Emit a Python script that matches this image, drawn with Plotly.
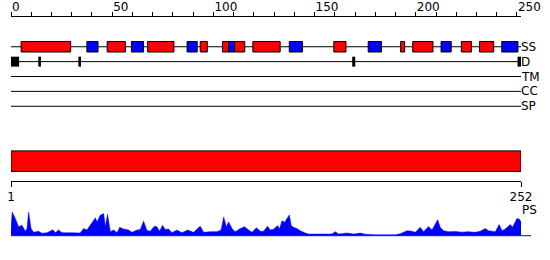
import plotly.graph_objects as go

# ---------------- data ----------------
ss_start = [5, 37.5, 47.5, 59.5, 67.5, 87, 93.5, 104.5, 107.5, 110.5, 119.5, 137.5,
            159.5, 176.5, 192.5, 198.5, 212.5, 222.5, 231.5, 242.5]
ss_end = [29.5, 43, 56.5, 65.5, 80.5, 92, 97, 107.5, 110.5, 115.5, 133, 144,
          165.5, 183, 194.5, 208.5, 217.5, 227.5, 238.5, 250.5]
ss_type = ["H", "E", "H", "E", "H", "E", "H", "H", "E", "H", "H", "E",
           "H", "E", "H", "H", "E", "H", "H", "E"]

d_start = [0, 13.5, 33.3, 168.6, 250.3]
d_end = [4, 14.8, 34.6, 170.1, 252]

domain_start = [0]
domain_end = [252]

seq_len = 252
track_names = ["SS", "D", "TM", "CC", "SP"]

ps_pos = [0, 0.6, 2.1, 3.8, 5.4, 6.2, 7.1, 7.9, 8.7, 9.9, 11.2, 13.6, 15.3, 17.8, 20.7,
          21.9, 23.5, 25.2, 27.7, 30.9, 34.2, 35.9, 37.5, 39.2, 41.7, 42.5, 44.1, 45.8,
          46.6, 47.7, 49.1, 50.7, 52.4, 53.7, 55.6, 58.1, 59.8, 62.3, 63.9, 65.5, 67.2,
          68.8, 70.8, 72.1, 73.4, 74.9, 76.2, 77.9, 79.5, 82.0, 84.5, 87.3, 90.2, 93.5,
          95.2, 98.5, 101.8, 103.8, 105.1, 106.4, 107.5, 109.2, 110.8, 113.3, 115.4,
          117.4, 119.1, 121.2, 123.2, 124.8, 126.8, 128.1, 130.1, 130.6, 131.9, 132.7,
          133.9, 135.2, 136.4, 137.5, 138.5, 139.6, 141.3, 142.9, 145.4, 147.0, 152.0,
          158.6, 160.2, 161.9, 166.0, 169.3, 172.6, 175.0, 180.0, 189.9, 192.3, 195.7,
          198.1, 199.8, 202.2, 203.9, 206.3, 208.0, 210.8, 212.1, 213.7, 216.2, 219.5,
          222.8, 226.1, 229.4, 231.9, 234.3, 236.0, 239.3, 241.2, 242.6, 244.2, 246.7,
          247.8, 250.0, 251.2, 252.2, 252.8]
ps_val = [0.3, 1.0, 0.72, 0.375, 0.44, 0.3, 0.19, 0.3, 1.0, 0.3, 0.14, 0.19, 0.1, 0.125,
          0.25, 0.125, 0.24, 0.125, 0.11, 0.12, 0.11, 0.3, 0.24, 0.44, 0.75, 0.58, 0.86,
          0.93, 0.375, 0.9, 0.17, 0.24, 0.125, 0.35, 0.28, 0.24, 0.14, 0.24, 0.26, 0.61,
          0.22, 0.19, 0.4, 0.375, 0.19, 0.44, 0.26, 0.28, 0.125, 0.24, 0.125, 0.24, 0.14,
          0.4, 0.14, 0.17, 0.17, 0.24, 0.79, 0.375, 0.58, 0.3, 0.17, 0.3, 0.375, 0.24,
          0.14, 0.33, 0.19, 0.19, 0.4, 0.24, 0.28, 0.35, 0.42, 0.28, 0.625, 0.56, 0.72,
          0.875, 0.42, 0.35, 0.3, 0.21, 0.11, 0.07, 0.07, 0.07, 0.17, 0.07, 0.11, 0.07,
          0.11, 0.06, 0.04, 0.04, 0.08, 0.21, 0.19, 0.14, 0.35, 0.17, 0.39, 0.24, 0.67,
          0.35, 0.21, 0.17, 0.18, 0.15, 0.17, 0.14, 0.19, 0.3, 0.21, 0.17, 0.47, 0.21,
          0.28, 0.47, 0.35, 0.72, 0.69, 0.56, 0.0]

# ---------------- layout constants (pixel rows) ----------------
W, H = 550, 260
T_MARGIN, B_MARGIN = 15, 0
ROW_Y = {"SS": 45, "D": 60, "TM": 75, "CC": 90, "SP": 105}
SS_HALF = 5.3
D_HALF = 5
DOM_Y0, DOM_Y1 = 150, 170.7
BOTTOM_AXIS_Y = 180
PS_BASE_Y = 235.5
PS_AMP = 24
FONT = "DejaVu Sans"
COLORS = {"H": "#ff0000", "E": "#0000ff"}

def paper_y(py):
    return (H - py) / (H - T_MARGIN - B_MARGIN)

shapes = []
# track lines
for name in track_names:
    shapes.append(dict(type="line", xref="x", yref="y", x0=0, x1=seq_len,
                       y0=ROW_Y[name], y1=ROW_Y[name],
                       line=dict(color="black", width=1)))
# secondary structure boxes
for s, e, t in zip(ss_start, ss_end, ss_type):
    shapes.append(dict(type="rect", xref="x", yref="y", x0=s, x1=e,
                       y0=ROW_Y["SS"] - SS_HALF, y1=ROW_Y["SS"] + SS_HALF,
                       fillcolor=COLORS[t], line=dict(color="black", width=1)))
# disorder marks
for s, e in zip(d_start, d_end):
    shapes.append(dict(type="rect", xref="x", yref="y", x0=s, x1=e,
                       y0=ROW_Y["D"] - D_HALF, y1=ROW_Y["D"] + D_HALF,
                       fillcolor="black", line=dict(width=0)))
# domain bar
for s, e in zip(domain_start, domain_end):
    shapes.append(dict(type="rect", xref="x", yref="y", x0=s, x1=e,
                       y0=DOM_Y0, y1=DOM_Y1,
                       fillcolor="#ff0000", line=dict(color="black", width=1)))
# PS baseline (extends a little past the axis)
shapes.append(dict(type="line", xref="paper", yref="paper", x0=0, x1=1.0196,
                   y0=paper_y(PS_BASE_Y), y1=paper_y(PS_BASE_Y),
                   line=dict(color="#0000ff", width=1)))

annotations = []
for name in track_names:
    annotations.append(dict(text=name, x=seq_len, y=ROW_Y[name], xref="x", yref="y",
                            xanchor="left", yanchor="middle", showarrow=False,
                            xshift=-2, font=dict(family=FONT, size=12, color="black")))
annotations.append(dict(text="PS", x=seq_len, y=210, xref="x", yref="y",
                        xanchor="left", yanchor="middle", showarrow=False,
                        xshift=-1, font=dict(family=FONT, size=12, color="black")))

fig = go.Figure()
fig.add_trace(go.Scatter(x=ps_pos, y=ps_val, xaxis="x", yaxis="y2", mode="lines",
                         fill="tozeroy", fillcolor="#0000ff",
                         line=dict(color="#0000ff", width=0.5), hoverinfo="skip",
                         showlegend=False))
fig.add_trace(go.Scatter(x=[0], y=[0], xaxis="x2", yaxis="y", mode="markers",
                         marker=dict(opacity=0), hoverinfo="skip", showlegend=False))

fig.update_layout(
    width=W, height=H,
    margin=dict(l=10.7, r=29.3, t=T_MARGIN, b=B_MARGIN, pad=0),
    paper_bgcolor="white", plot_bgcolor="rgba(0,0,0,0)",
    showlegend=False,
    font=dict(family=FONT, size=12, color="black"),
    xaxis=dict(range=[0, seq_len], side="top", showline=True, linecolor="black",
               linewidth=1, ticks="outside", ticklen=4, tickwidth=1, tickcolor="black",
               tickmode="linear", tick0=0, dtick=50,
               minor=dict(ticks="outside", ticklen=4, tickwidth=1, tickcolor="black",
                          dtick=10, tick0=0, showgrid=False),
               ticklabelposition="outside right",
               showgrid=False, zeroline=False, fixedrange=True,
               tickfont=dict(family=FONT, size=12, color="black")),
    xaxis2=dict(range=[0, seq_len], overlaying="x", anchor="free",
                position=paper_y(BOTTOM_AXIS_Y), side="bottom",
                showline=True, linecolor="black", linewidth=1,
                ticks="outside", ticklen=5, tickwidth=1, tickcolor="black",
                tickmode="array", tickvals=[0, seq_len], ticktext=["1", str(seq_len)],
                showgrid=False, zeroline=False,
                tickfont=dict(family=FONT, size=12, color="black")),
    yaxis=dict(range=[H, T_MARGIN], domain=[0, 1], visible=False, fixedrange=True),
    yaxis2=dict(range=[0, 1], domain=[paper_y(PS_BASE_Y), paper_y(PS_BASE_Y - PS_AMP)],
                anchor="x", visible=False, fixedrange=True),
    shapes=shapes,
    annotations=annotations,
)

fig.write_html("out.html")
